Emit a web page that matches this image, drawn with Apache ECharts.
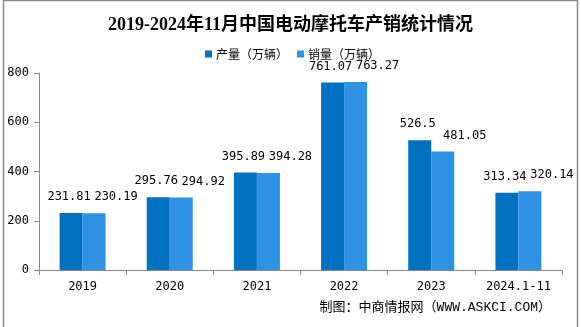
<!DOCTYPE html>
<html>
<head>
<meta charset="utf-8">
<script src="https://cdn.jsdelivr.net/npm/echarts@6/dist/echarts.min.js"></script>
<style>html,body{margin:0;padding:0;background:#fff}#c{width:581px;height:327px}</style>
</head>
<body>
<div id="c"></div>
<script>
const categories = ['2019', '2020', '2021', '2022', '2023', '2024.1-11'];
const production = [231.81, 295.76, 395.89, 761.07, 526.5, 313.34];
const sales = [230.19, 294.92, 394.28, 763.27, 481.05, 320.14];
const seriesNames = ['产量（万辆）', '销量（万辆）'];
const yTicks = [0, 200, 400, 600, 800];

const numFont = '"DejaVu Sans Mono", "Noto Sans CJK SC", monospace';
const chart = echarts.init(document.getElementById('c'), null, {renderer: 'canvas'});
chart.setOption({
  animation: false,
  backgroundColor: '#ffffff',
  title: {
    text: '2019-2024年11月中国电动摩托车产销统计情况',
    left: 'center',
    top: 11,
    textStyle: {fontFamily: '"Liberation Serif", "Noto Sans CJK SC", serif', fontSize: 18, fontWeight: 'bold', color: '#000'}
  },
  legend: {
    data: seriesNames,
    left: 200,
    top: 43,
    itemWidth: 7,
    itemHeight: 7,
    itemGap: 9,
    icon: 'rect',
    textStyle: {fontFamily: '"Noto Sans CJK SC", sans-serif', fontSize: 12, color: '#000', padding: [0, 0, 0, -1]}
  },
  grid: {left: 39, right: 19, top: 73, bottom: 57, containLabel: false},
  xAxis: {
    type: 'category',
    data: categories,
    axisLine: {lineStyle: {color: '#898989', width: 1}},
    axisTick: {show: true, length: 5, lineStyle: {color: '#898989'}},
    axisLabel: {fontFamily: numFont, fontSize: 12, color: '#000', margin: 11}
  },
  yAxis: {
    type: 'value',
    min: yTicks[0],
    max: yTicks[yTicks.length - 1],
    interval: 200,
    splitLine: {show: false},
    axisLine: {show: true, lineStyle: {color: '#898989', width: 1}},
    axisTick: {show: true, length: 5, lineStyle: {color: '#898989'}},
    axisLabel: {fontFamily: numFont, fontSize: 12, color: '#000', margin: 10}
  },
  series: [
    {
      name: seriesNames[0],
      type: 'bar',
      data: production,
      barWidth: 23,
      barGap: '0%',
      itemStyle: {color: '#0070C0'},
      label: {show: true, position: 'top', distance: 10, offset: [-2, 0], fontFamily: numFont, fontSize: 12, color: '#000'}
    },
    {
      name: seriesNames[1],
      type: 'bar',
      data: sales,
      barWidth: 23,
      barGap: '0%',
      itemStyle: {color: '#2F92E5'},
      label: {show: true, position: 'top', distance: 10, offset: [22, 0], fontFamily: numFont, fontSize: 12, color: '#000'}
    }
  ],
  graphic: [
    {
      type: 'rect',
      left: 1, top: -2,
      shape: {x: 0, y: 0, width: 574, height: 328},
      style: {fill: 'none', stroke: '#898989', lineWidth: 1.5},
      silent: true
    },
    {
      type: 'text',
      right: 30,
      top: 301,
      style: {text: '制图：中商情报网（WWW.ASKCI.COM）', font: '13px "Liberation Mono", "Noto Sans CJK SC", monospace', fill: '#000'}
    }
  ]
});
</script>
</body>
</html>
